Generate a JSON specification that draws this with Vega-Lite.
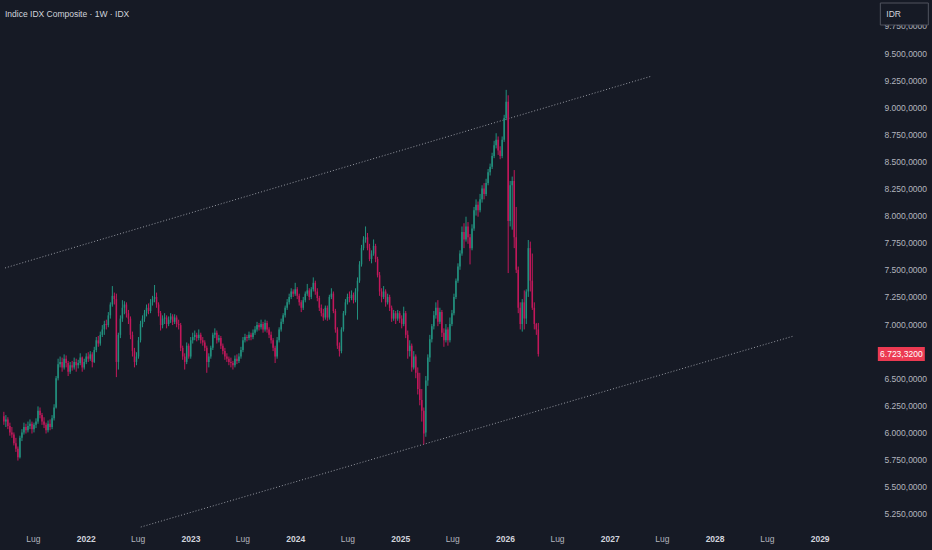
{
  "$schema": "https://vega.github.io/schema/vega-lite/v6.json",
  "width": 870,
  "height": 525,
  "autosize": "none",
  "padding": {"left": 0, "top": 0, "right": 62, "bottom": 25},
  "background": "#161a25",
  "title": {"text": "Indice IDX Composite · 1W · IDX", "anchor": "start", "orient": "top", "frame": "group", "offset": -18, "dx": 5, "fontSize": 8.5, "fontWeight": "normal", "color": "#d1d4dc", "font": "Liberation Sans, sans-serif"},
  "config": {
    "view": {"stroke": null},
    "font": "Liberation Sans, sans-serif",
    "axis": {"grid": false, "domain": false, "ticks": false, "labelFont": "Liberation Sans, sans-serif", "labelFontSize": 8.5, "labelColor": "#b2b5be", "title": null, "labelOverlap": false}
  },
  "datasets": {
    "candles": [
      {"d":"2021-03-22","o":6150,"h":6190,"l":6070,"c":6100},
      {"d":"2021-03-29","o":6100,"h":6160,"l":6050,"c":6120},
      {"d":"2021-04-05","o":6120,"h":6140,"l":6030,"c":6060},
      {"d":"2021-04-12","o":6060,"h":6090,"l":5970,"c":6000},
      {"d":"2021-04-19","o":6000,"h":6050,"l":5950,"c":5980},
      {"d":"2021-04-26","o":5980,"h":6000,"l":5880,"c":5900},
      {"d":"2021-05-03","o":5900,"h":5950,"l":5820,"c":5850},
      {"d":"2021-05-10","o":5850,"h":5870,"l":5740,"c":5770},
      {"d":"2021-05-17","o":5770,"h":5970,"l":5760,"c":5950},
      {"d":"2021-05-24","o":5950,"h":6030,"l":5920,"c":6000},
      {"d":"2021-05-31","o":6000,"h":6090,"l":5980,"c":6050},
      {"d":"2021-06-07","o":6050,"h":6080,"l":5990,"c":6020},
      {"d":"2021-06-14","o":6020,"h":6100,"l":6000,"c":6060},
      {"d":"2021-06-21","o":6060,"h":6120,"l":6030,"c":6080},
      {"d":"2021-06-28","o":6080,"h":6100,"l":5990,"c":6030},
      {"d":"2021-07-05","o":6030,"h":6090,"l":6000,"c":6070},
      {"d":"2021-07-12","o":6070,"h":6130,"l":6040,"c":6100},
      {"d":"2021-07-19","o":6100,"h":6240,"l":6080,"c":6200},
      {"d":"2021-07-26","o":6200,"h":6230,"l":6130,"c":6160},
      {"d":"2021-08-02","o":6160,"h":6180,"l":6070,"c":6100},
      {"d":"2021-08-09","o":6100,"h":6140,"l":6040,"c":6070},
      {"d":"2021-08-16","o":6070,"h":6090,"l":5990,"c":6020},
      {"d":"2021-08-23","o":6020,"h":6110,"l":6000,"c":6080},
      {"d":"2021-08-30","o":6080,"h":6120,"l":6020,"c":6050},
      {"d":"2021-09-06","o":6050,"h":6160,"l":6030,"c":6130},
      {"d":"2021-09-13","o":6130,"h":6260,"l":6110,"c":6230},
      {"d":"2021-09-20","o":6230,"h":6520,"l":6220,"c":6500},
      {"d":"2021-09-27","o":6500,"h":6680,"l":6480,"c":6630},
      {"d":"2021-10-04","o":6630,"h":6700,"l":6600,"c":6650},
      {"d":"2021-10-11","o":6650,"h":6690,"l":6560,"c":6600},
      {"d":"2021-10-18","o":6600,"h":6720,"l":6580,"c":6680},
      {"d":"2021-10-25","o":6680,"h":6710,"l":6600,"c":6640},
      {"d":"2021-11-01","o":6640,"h":6660,"l":6520,"c":6560},
      {"d":"2021-11-08","o":6560,"h":6650,"l":6540,"c":6620},
      {"d":"2021-11-15","o":6620,"h":6660,"l":6570,"c":6600},
      {"d":"2021-11-22","o":6600,"h":6690,"l":6580,"c":6650},
      {"d":"2021-11-29","o":6650,"h":6680,"l":6560,"c":6620},
      {"d":"2021-12-06","o":6620,"h":6670,"l":6590,"c":6640},
      {"d":"2021-12-13","o":6640,"h":6730,"l":6620,"c":6690},
      {"d":"2021-12-20","o":6690,"h":6700,"l":6560,"c":6600},
      {"d":"2021-12-27","o":6600,"h":6680,"l":6580,"c":6650},
      {"d":"2022-01-03","o":6650,"h":6730,"l":6630,"c":6700},
      {"d":"2022-01-10","o":6700,"h":6740,"l":6650,"c":6680},
      {"d":"2022-01-17","o":6680,"h":6750,"l":6660,"c":6720},
      {"d":"2022-01-24","o":6720,"h":6740,"l":6600,"c":6650},
      {"d":"2022-01-31","o":6650,"h":6790,"l":6640,"c":6760},
      {"d":"2022-02-07","o":6760,"h":6880,"l":6740,"c":6850},
      {"d":"2022-02-14","o":6850,"h":6890,"l":6790,"c":6820},
      {"d":"2022-02-21","o":6820,"h":6930,"l":6800,"c":6900},
      {"d":"2022-02-28","o":6900,"h":6990,"l":6880,"c":6950},
      {"d":"2022-03-07","o":6950,"h":7030,"l":6900,"c":7000},
      {"d":"2022-03-14","o":7000,"h":7040,"l":6950,"c":6990},
      {"d":"2022-03-21","o":6990,"h":7110,"l":6970,"c":7080},
      {"d":"2022-03-28","o":7080,"h":7200,"l":7050,"c":7180},
      {"d":"2022-04-04","o":7180,"h":7350,"l":7160,"c":7260},
      {"d":"2022-04-11","o":7260,"h":7290,"l":7180,"c":7230},
      {"d":"2022-04-18","o":7230,"h":7280,"l":6510,"c":6650},
      {"d":"2022-04-25","o":6650,"h":6920,"l":6580,"c":6900},
      {"d":"2022-05-02","o":6900,"h":7080,"l":6870,"c":7050},
      {"d":"2022-05-09","o":7050,"h":7220,"l":7020,"c":7150},
      {"d":"2022-05-16","o":7150,"h":7210,"l":7090,"c":7180},
      {"d":"2022-05-23","o":7180,"h":7200,"l":7060,"c":7100},
      {"d":"2022-05-30","o":7100,"h":7130,"l":7000,"c":7050},
      {"d":"2022-06-06","o":7050,"h":7070,"l":6860,"c":6900},
      {"d":"2022-06-13","o":6900,"h":6930,"l":6700,"c":6750},
      {"d":"2022-06-20","o":6750,"h":6780,"l":6600,"c":6650},
      {"d":"2022-06-27","o":6650,"h":6740,"l":6620,"c":6700},
      {"d":"2022-07-04","o":6700,"h":6880,"l":6680,"c":6850},
      {"d":"2022-07-11","o":6850,"h":7030,"l":6830,"c":7000},
      {"d":"2022-07-18","o":7000,"h":7080,"l":6970,"c":7050},
      {"d":"2022-07-25","o":7050,"h":7130,"l":7020,"c":7100},
      {"d":"2022-08-01","o":7100,"h":7180,"l":7070,"c":7150},
      {"d":"2022-08-08","o":7150,"h":7190,"l":7090,"c":7120},
      {"d":"2022-08-15","o":7120,"h":7230,"l":7100,"c":7200},
      {"d":"2022-08-22","o":7200,"h":7260,"l":7170,"c":7230},
      {"d":"2022-08-29","o":7230,"h":7360,"l":7200,"c":7250},
      {"d":"2022-09-05","o":7250,"h":7290,"l":7150,"c":7180},
      {"d":"2022-09-12","o":7180,"h":7200,"l":7070,"c":7100},
      {"d":"2022-09-19","o":7100,"h":7120,"l":6940,"c":6990},
      {"d":"2022-09-26","o":6990,"h":7080,"l":6960,"c":7050},
      {"d":"2022-10-03","o":7050,"h":7100,"l":7000,"c":7060},
      {"d":"2022-10-10","o":7060,"h":7080,"l":6960,"c":7000},
      {"d":"2022-10-17","o":7000,"h":7070,"l":6980,"c":7040},
      {"d":"2022-10-24","o":7040,"h":7100,"l":7010,"c":7070},
      {"d":"2022-10-31","o":7070,"h":7090,"l":6990,"c":7020},
      {"d":"2022-11-07","o":7020,"h":7090,"l":7000,"c":7060},
      {"d":"2022-11-14","o":7060,"h":7080,"l":6970,"c":7000},
      {"d":"2022-11-21","o":7000,"h":7040,"l":6950,"c":6990},
      {"d":"2022-11-28","o":6990,"h":7010,"l":6750,"c":6780},
      {"d":"2022-12-05","o":6780,"h":6800,"l":6670,"c":6700},
      {"d":"2022-12-12","o":6700,"h":6730,"l":6580,"c":6650},
      {"d":"2022-12-19","o":6650,"h":6830,"l":6630,"c":6800},
      {"d":"2022-12-26","o":6800,"h":6820,"l":6680,"c":6700},
      {"d":"2023-01-02","o":6700,"h":6880,"l":6680,"c":6850},
      {"d":"2023-01-09","o":6850,"h":6920,"l":6820,"c":6880},
      {"d":"2023-01-16","o":6880,"h":6940,"l":6850,"c":6900},
      {"d":"2023-01-23","o":6900,"h":6920,"l":6840,"c":6870},
      {"d":"2023-01-30","o":6870,"h":6950,"l":6850,"c":6900},
      {"d":"2023-02-06","o":6900,"h":6920,"l":6820,"c":6850},
      {"d":"2023-02-13","o":6850,"h":6880,"l":6800,"c":6830},
      {"d":"2023-02-20","o":6830,"h":6850,"l":6750,"c":6780},
      {"d":"2023-02-27","o":6780,"h":6800,"l":6550,"c":6650},
      {"d":"2023-03-06","o":6650,"h":6730,"l":6600,"c":6700},
      {"d":"2023-03-13","o":6700,"h":6800,"l":6680,"c":6780},
      {"d":"2023-03-20","o":6780,"h":6920,"l":6760,"c":6900},
      {"d":"2023-03-27","o":6900,"h":6960,"l":6870,"c":6920},
      {"d":"2023-04-03","o":6920,"h":6940,"l":6820,"c":6850},
      {"d":"2023-04-10","o":6850,"h":6900,"l":6830,"c":6870},
      {"d":"2023-04-17","o":6870,"h":6890,"l":6770,"c":6800},
      {"d":"2023-04-24","o":6800,"h":6820,"l":6720,"c":6750},
      {"d":"2023-05-01","o":6750,"h":6780,"l":6670,"c":6700},
      {"d":"2023-05-08","o":6700,"h":6730,"l":6650,"c":6680},
      {"d":"2023-05-15","o":6680,"h":6700,"l":6620,"c":6650},
      {"d":"2023-05-22","o":6650,"h":6690,"l":6600,"c":6640},
      {"d":"2023-05-29","o":6640,"h":6660,"l":6580,"c":6620},
      {"d":"2023-06-05","o":6620,"h":6710,"l":6600,"c":6680},
      {"d":"2023-06-12","o":6680,"h":6720,"l":6630,"c":6660},
      {"d":"2023-06-19","o":6660,"h":6730,"l":6640,"c":6700},
      {"d":"2023-06-26","o":6700,"h":6790,"l":6680,"c":6760},
      {"d":"2023-07-03","o":6760,"h":6880,"l":6740,"c":6850},
      {"d":"2023-07-10","o":6850,"h":6910,"l":6830,"c":6880},
      {"d":"2023-07-17","o":6880,"h":6900,"l":6840,"c":6870},
      {"d":"2023-07-24","o":6870,"h":6930,"l":6850,"c":6900},
      {"d":"2023-07-31","o":6900,"h":6920,"l":6850,"c":6880},
      {"d":"2023-08-07","o":6880,"h":6950,"l":6860,"c":6920},
      {"d":"2023-08-14","o":6920,"h":6980,"l":6900,"c":6950},
      {"d":"2023-08-21","o":6950,"h":7020,"l":6930,"c":6990},
      {"d":"2023-08-28","o":6990,"h":7010,"l":6940,"c":6970},
      {"d":"2023-09-04","o":6970,"h":7040,"l":6950,"c":7000},
      {"d":"2023-09-11","o":7000,"h":7020,"l":6920,"c":6950},
      {"d":"2023-09-18","o":6950,"h":7040,"l":6930,"c":7010},
      {"d":"2023-09-25","o":7010,"h":7030,"l":6920,"c":6950},
      {"d":"2023-10-02","o":6950,"h":6970,"l":6870,"c":6900},
      {"d":"2023-10-09","o":6900,"h":6930,"l":6820,"c":6850},
      {"d":"2023-10-16","o":6850,"h":6870,"l":6750,"c":6780},
      {"d":"2023-10-23","o":6780,"h":6800,"l":6640,"c":6700},
      {"d":"2023-10-30","o":6700,"h":6880,"l":6680,"c":6850},
      {"d":"2023-11-06","o":6850,"h":6970,"l":6830,"c":6950},
      {"d":"2023-11-13","o":6950,"h":7050,"l":6930,"c":7020},
      {"d":"2023-11-20","o":7020,"h":7100,"l":7000,"c":7080},
      {"d":"2023-11-27","o":7080,"h":7170,"l":7060,"c":7150},
      {"d":"2023-12-04","o":7150,"h":7230,"l":7130,"c":7200},
      {"d":"2023-12-11","o":7200,"h":7280,"l":7180,"c":7250},
      {"d":"2023-12-18","o":7250,"h":7330,"l":7230,"c":7300},
      {"d":"2023-12-25","o":7300,"h":7320,"l":7250,"c":7280},
      {"d":"2024-01-01","o":7280,"h":7380,"l":7260,"c":7320},
      {"d":"2024-01-08","o":7320,"h":7340,"l":7230,"c":7260},
      {"d":"2024-01-15","o":7260,"h":7280,"l":7170,"c":7200},
      {"d":"2024-01-22","o":7200,"h":7220,"l":7110,"c":7150},
      {"d":"2024-01-29","o":7150,"h":7250,"l":7130,"c":7220},
      {"d":"2024-02-05","o":7220,"h":7300,"l":7200,"c":7280},
      {"d":"2024-02-12","o":7280,"h":7370,"l":7260,"c":7310},
      {"d":"2024-02-19","o":7310,"h":7330,"l":7220,"c":7250},
      {"d":"2024-02-26","o":7250,"h":7340,"l":7230,"c":7320},
      {"d":"2024-03-04","o":7320,"h":7430,"l":7300,"c":7380},
      {"d":"2024-03-11","o":7380,"h":7400,"l":7270,"c":7300},
      {"d":"2024-03-18","o":7300,"h":7330,"l":7210,"c":7240},
      {"d":"2024-03-25","o":7240,"h":7260,"l":7120,"c":7150},
      {"d":"2024-04-01","o":7150,"h":7180,"l":7070,"c":7100},
      {"d":"2024-04-08","o":7100,"h":7140,"l":7030,"c":7060},
      {"d":"2024-04-15","o":7060,"h":7170,"l":7040,"c":7150},
      {"d":"2024-04-22","o":7150,"h":7170,"l":7030,"c":7060},
      {"d":"2024-04-29","o":7060,"h":7270,"l":7040,"c":7250},
      {"d":"2024-05-06","o":7250,"h":7330,"l":7230,"c":7280},
      {"d":"2024-05-13","o":7280,"h":7300,"l":7100,"c":7120},
      {"d":"2024-05-20","o":7120,"h":7140,"l":6920,"c":6950},
      {"d":"2024-05-27","o":6950,"h":6970,"l":6770,"c":6800},
      {"d":"2024-06-03","o":6800,"h":6830,"l":6700,"c":6750},
      {"d":"2024-06-10","o":6750,"h":6970,"l":6730,"c":6950},
      {"d":"2024-06-17","o":6950,"h":7120,"l":6930,"c":7100},
      {"d":"2024-06-24","o":7100,"h":7230,"l":7080,"c":7200},
      {"d":"2024-07-01","o":7200,"h":7280,"l":7180,"c":7250},
      {"d":"2024-07-08","o":7250,"h":7300,"l":7200,"c":7240},
      {"d":"2024-07-15","o":7240,"h":7310,"l":7220,"c":7270},
      {"d":"2024-07-22","o":7270,"h":7290,"l":7190,"c":7220},
      {"d":"2024-07-29","o":7220,"h":7330,"l":7200,"c":7300},
      {"d":"2024-08-05","o":7300,"h":7430,"l":7040,"c":7400},
      {"d":"2024-08-12","o":7400,"h":7580,"l":7380,"c":7550},
      {"d":"2024-08-19","o":7550,"h":7730,"l":7530,"c":7700},
      {"d":"2024-08-26","o":7700,"h":7810,"l":7680,"c":7780},
      {"d":"2024-09-02","o":7780,"h":7900,"l":7750,"c":7800},
      {"d":"2024-09-09","o":7800,"h":7840,"l":7680,"c":7700},
      {"d":"2024-09-16","o":7700,"h":7740,"l":7580,"c":7600},
      {"d":"2024-09-23","o":7600,"h":7680,"l":7560,"c":7650},
      {"d":"2024-09-30","o":7650,"h":7780,"l":7630,"c":7720},
      {"d":"2024-10-07","o":7720,"h":7740,"l":7570,"c":7600},
      {"d":"2024-10-14","o":7600,"h":7620,"l":7430,"c":7450},
      {"d":"2024-10-21","o":7450,"h":7480,"l":7260,"c":7300},
      {"d":"2024-10-28","o":7300,"h":7330,"l":7200,"c":7250},
      {"d":"2024-11-04","o":7250,"h":7350,"l":7230,"c":7300},
      {"d":"2024-11-11","o":7300,"h":7320,"l":7160,"c":7200},
      {"d":"2024-11-18","o":7200,"h":7280,"l":7180,"c":7250},
      {"d":"2024-11-25","o":7250,"h":7270,"l":7120,"c":7150},
      {"d":"2024-12-02","o":7150,"h":7170,"l":7020,"c":7050},
      {"d":"2024-12-09","o":7050,"h":7130,"l":7030,"c":7100},
      {"d":"2024-12-16","o":7100,"h":7120,"l":7000,"c":7050},
      {"d":"2024-12-23","o":7050,"h":7130,"l":7030,"c":7100},
      {"d":"2024-12-30","o":7100,"h":7120,"l":7010,"c":7050},
      {"d":"2025-01-06","o":7050,"h":7080,"l":6960,"c":7000},
      {"d":"2025-01-13","o":7000,"h":7160,"l":6980,"c":7100},
      {"d":"2025-01-20","o":7100,"h":7120,"l":6870,"c":6900},
      {"d":"2025-01-27","o":6900,"h":6940,"l":6680,"c":6750},
      {"d":"2025-02-03","o":6750,"h":6850,"l":6700,"c":6800},
      {"d":"2025-02-10","o":6800,"h":6820,"l":6560,"c":6600},
      {"d":"2025-02-17","o":6600,"h":6750,"l":6580,"c":6700},
      {"d":"2025-02-24","o":6700,"h":6720,"l":6500,"c":6550},
      {"d":"2025-03-03","o":6550,"h":6600,"l":6350,"c":6400},
      {"d":"2025-03-10","o":6400,"h":6550,"l":6250,"c":6300},
      {"d":"2025-03-17","o":6300,"h":6400,"l":6100,"c":6200},
      {"d":"2025-03-24","o":6200,"h":6230,"l":5890,"c":5990},
      {"d":"2025-03-31","o":6000,"h":6520,"l":5960,"c":6480},
      {"d":"2025-04-07","o":6480,"h":6720,"l":6430,"c":6690},
      {"d":"2025-04-14","o":6690,"h":6900,"l":6650,"c":6860},
      {"d":"2025-04-21","o":6860,"h":7000,"l":6830,"c":6980},
      {"d":"2025-04-28","o":6980,"h":7120,"l":6950,"c":7080},
      {"d":"2025-05-05","o":7080,"h":7200,"l":7050,"c":7150},
      {"d":"2025-05-12","o":7150,"h":7220,"l":6980,"c":7020},
      {"d":"2025-05-19","o":7020,"h":7150,"l":7000,"c":7110},
      {"d":"2025-05-26","o":7110,"h":7130,"l":6880,"c":6920},
      {"d":"2025-06-02","o":6920,"h":6960,"l":6790,"c":6850},
      {"d":"2025-06-09","o":6850,"h":7000,"l":6830,"c":6950},
      {"d":"2025-06-16","o":6950,"h":6970,"l":6800,"c":6850},
      {"d":"2025-06-23","o":6850,"h":7060,"l":6830,"c":7000},
      {"d":"2025-06-30","o":7000,"h":7130,"l":6980,"c":7100},
      {"d":"2025-07-07","o":7100,"h":7280,"l":7080,"c":7250},
      {"d":"2025-07-14","o":7250,"h":7420,"l":7230,"c":7400},
      {"d":"2025-07-21","o":7400,"h":7560,"l":7380,"c":7530},
      {"d":"2025-07-28","o":7530,"h":7680,"l":7500,"c":7650},
      {"d":"2025-08-04","o":7650,"h":7900,"l":7630,"c":7850},
      {"d":"2025-08-11","o":7850,"h":7930,"l":7700,"c":7780},
      {"d":"2025-08-18","o":7780,"h":7990,"l":7760,"c":7900},
      {"d":"2025-08-25","o":7900,"h":7940,"l":7740,"c":7800},
      {"d":"2025-09-01","o":7800,"h":7830,"l":7550,"c":7700},
      {"d":"2025-09-08","o":7700,"h":7920,"l":7680,"c":7880},
      {"d":"2025-09-15","o":7880,"h":8080,"l":7860,"c":8050},
      {"d":"2025-09-22","o":8050,"h":8150,"l":8000,"c":8100},
      {"d":"2025-09-29","o":8100,"h":8130,"l":7990,"c":8050},
      {"d":"2025-10-06","o":8050,"h":8200,"l":8030,"c":8150},
      {"d":"2025-10-13","o":8150,"h":8280,"l":8120,"c":8250},
      {"d":"2025-10-20","o":8250,"h":8300,"l":8150,"c":8200},
      {"d":"2025-10-27","o":8200,"h":8340,"l":8180,"c":8300},
      {"d":"2025-11-03","o":8300,"h":8430,"l":8280,"c":8400},
      {"d":"2025-11-10","o":8400,"h":8480,"l":8370,"c":8450},
      {"d":"2025-11-17","o":8450,"h":8580,"l":8430,"c":8550},
      {"d":"2025-11-24","o":8550,"h":8690,"l":8530,"c":8650},
      {"d":"2025-12-01","o":8650,"h":8760,"l":8620,"c":8700},
      {"d":"2025-12-08","o":8700,"h":8730,"l":8560,"c":8600},
      {"d":"2025-12-15","o":8600,"h":8640,"l":8520,"c":8550},
      {"d":"2025-12-22","o":8550,"h":8730,"l":8530,"c":8700},
      {"d":"2025-12-29","o":8700,"h":8930,"l":8680,"c":8900},
      {"d":"2026-01-05","o":8900,"h":9160,"l":8880,"c":9050},
      {"d":"2026-01-12","o":9050,"h":9110,"l":7470,"c":7950},
      {"d":"2026-01-19","o":7950,"h":8320,"l":7900,"c":8280},
      {"d":"2026-01-26","o":8280,"h":8360,"l":7870,"c":8320},
      {"d":"2026-02-02","o":8320,"h":8420,"l":7700,"c":7800},
      {"d":"2026-02-09","o":7800,"h":8080,"l":7470,"c":7500},
      {"d":"2026-02-16","o":7500,"h":7530,"l":7100,"c":7150},
      {"d":"2026-02-23","o":7150,"h":7200,"l":6950,"c":7000},
      {"d":"2026-03-02","o":7000,"h":7230,"l":6930,"c":7200},
      {"d":"2026-03-09","o":7200,"h":7310,"l":6950,"c":7050},
      {"d":"2026-03-16","o":7050,"h":7320,"l":7000,"c":7300},
      {"d":"2026-03-23","o":7300,"h":7775,"l":7250,"c":7700},
      {"d":"2026-03-30","o":7700,"h":7760,"l":7300,"c":7400},
      {"d":"2026-04-06","o":7400,"h":7650,"l":7130,"c":7150},
      {"d":"2026-04-13","o":7150,"h":7200,"l":6950,"c":7000},
      {"d":"2026-04-20","o":7000,"h":7010,"l":6900,"c":6950},
      {"d":"2026-04-27","o":6950,"h":7010,"l":6700,"c":6723.32}
    ],
    "channel": [
      {"line":"upper","d":"2021-03-26","v":7517},
      {"line":"upper","d":"2027-05-28","v":9288},
      {"line":"lower","d":"2022-07-12","v":5127},
      {"line":"lower","d":"2028-10-02","v":6889}
    ]
  },
  "encoding": {
    "x": {
      "field": "d",
      "type": "temporal",
      "scale": {"domain": [{"year": 2021, "month": 3, "date": 26}, {"year": 2029, "month": 6, "date": 8}]},
      "axis": {
        "orient": "bottom",
        "tickCount": {"interval": "month", "step": 6},
        "labelExpr": "month(datum.value) == 6 ? 'Lug' : timeFormat(datum.value, '%Y')",
        "labelFontWeight": {"condition": {"test": "month(datum.value) == 0", "value": "bold"}, "value": "normal"},
        "labelColor": {"condition": {"test": "month(datum.value) == 0", "value": "#d1d4dc"}, "value": "#b2b5be"},
        "labelPadding": 9,
        "labelFlush": false
      }
    }
  },
  "layer": [
    {
      "data": {"name": "channel"},
      "mark": {"type": "line", "color": "#9598a1", "strokeWidth": 1, "strokeDash": [1, 2]},
      "encoding": {
        "y": {"field": "v", "type": "quantitative"},
        "detail": {"field": "line"}
      }
    },
    {
      "data": {"name": "candles"},
      "mark": {"type": "rule", "strokeWidth": 1},
      "encoding": {
        "y": {
          "field": "l",
          "type": "quantitative",
          "scale": {"domain": [5146, 9989], "nice": false, "zero": false},
          "axis": {
            "orient": "right",
            "values": [5250, 5500, 5750, 6000, 6250, 6500, 7000, 7250, 7500, 7750, 8000, 8250, 8500, 8750, 9000, 9250, 9500, 9750],
            "tickCount": 40,
            "labelExpr": "replace(replace(replace(format(datum.value, ',.4f'), ',', '#'), '.', ','), '#', '.')",
            "labelAlign": "left",
            "labelPadding": 14
          }
        },
        "y2": {"field": "h"},
        "color": {"condition": {"test": "datum.c >= datum.o", "value": "#22917f"}, "value": "#c2185b"}
      }
    },
    {
      "data": {"name": "candles"},
      "mark": {"type": "bar", "width": 1.5},
      "encoding": {
        "y": {"field": "o", "type": "quantitative"},
        "y2": {"field": "c"},
        "color": {"condition": {"test": "datum.c >= datum.o", "value": "#22917f"}, "value": "#c2185b"}
      }
    },
    {
      "data": {"name": "candles"},
      "transform": [{"filter": "datum.c == 6723.32"}],
      "mark": {"type": "point", "shape": "M-1,-0.2979H1V0.2979H-1Z", "size": 2209, "filled": true, "opacity": 1, "color": "#ec3a52", "strokeWidth": 0, "xOffset": 363},
      "encoding": {
        "y": {"field": "c", "type": "quantitative"}
      }
    },
    {
      "data": {"name": "candles"},
      "transform": [{"filter": "datum.c == 6723.32"}],
      "mark": {"type": "text", "color": "#ffffff", "fontSize": 8.5, "align": "center", "baseline": "middle", "dx": 363},
      "encoding": {
        "y": {"field": "c", "type": "quantitative"},
        "text": {"value": "6.723,3200"}
      }
    },
    {
      "data": {"name": "candles"},
      "transform": [{"filter": "datum.c == 6723.32"}],
      "mark": {"type": "point", "shape": "M-1,-0.4583H1V0.4583H-1Z", "size": 2304, "filled": true, "opacity": 1, "fill": "#161a25", "stroke": "#50535e", "strokeWidth": 1, "xOffset": 366, "yOffset": -340},
      "encoding": {
        "y": {"field": "c", "type": "quantitative"}
      }
    },
    {
      "data": {"name": "candles"},
      "transform": [{"filter": "datum.c == 6723.32"}],
      "mark": {"type": "text", "color": "#d1d4dc", "fontSize": 8.5, "align": "left", "baseline": "middle", "dx": 348, "dy": -340},
      "encoding": {
        "y": {"field": "c", "type": "quantitative"},
        "text": {"value": "IDR"}
      }
    }
  ]
}
